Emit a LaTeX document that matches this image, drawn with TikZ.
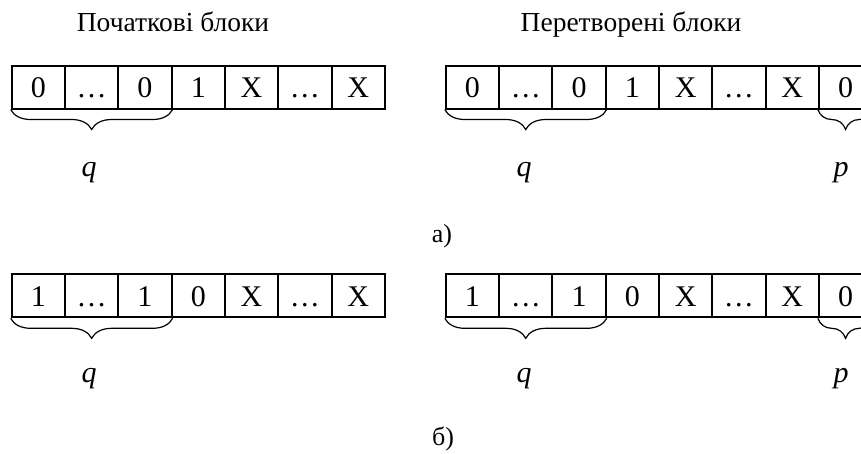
\documentclass[tikz,border=0pt]{standalone}
\usepackage{fontspec}
\setmainfont{Liberation Serif}
\usetikzlibrary{decorations.pathreplacing}

\tikzset{
  cell/.style={draw, line width=2pt, minimum width=53.3pt, minimum height=43pt,
    inner sep=0pt, font=\fontsize{30}{30}\selectfont, text height=21.5pt, text depth=0pt},
  bracebelow/.style={line width=1.2pt, decorate,
    decoration={brace, mirror, amplitude=20pt}},
  title/.style={font=\fontsize{27.5}{28}\selectfont, anchor=base},
  varlabel/.style={font=\fontsize{30}{30}\selectfont\itshape, anchor=base},
  caption/.style={font=\fontsize{26}{26}\selectfont, anchor=base}
}

\begin{document}
\begin{tikzpicture}[x=1pt, y=-1pt]
  \path[use as bounding box] (0,0) rectangle (861,453);
  \clip (0,0) rectangle (861,453);

  % column headings
  \node[title] (hl) at (173,31) {Початкові блоки};
  \node[title] (hr) at (631,31) {Перетворені блоки};

  % case a): original and transformed blocks
  \foreach \t [count=\i] in {0,…,0,1,X,…,X}
    \node[cell] (a\i) at ({11.7+53.3*(\i-0.5)},87) {\t};
  \foreach \t [count=\i] in {0,…,0,1,X,…,X,0}
    \node[cell] (b\i) at ({445.8+53.3*(\i-0.5)},87) {\t};

  \draw[bracebelow] (a1.south west) -- (a3.south east);
  \draw[bracebelow] (b1.south west) -- (b3.south east);
  \draw[bracebelow] (b8.south west) -- (b8.south east);

  \node[varlabel] (qa) at (89,176) {q};
  \node[varlabel] (qb) at (524,176) {q};
  \node[varlabel] (pb) at (841,176) {p};

  \node[caption] (capa) at (442,242) {а)};

  % case б): original and transformed blocks
  \foreach \t [count=\i] in {1,…,1,0,X,…,X}
    \node[cell] (c\i) at ({11.7+53.3*(\i-0.5)},295.8) {\t};
  \foreach \t [count=\i] in {1,…,1,0,X,…,X,0}
    \node[cell] (d\i) at ({445.8+53.3*(\i-0.5)},295.8) {\t};

  \draw[bracebelow] (c1.south west) -- (c3.south east);
  \draw[bracebelow] (d1.south west) -- (d3.south east);
  \draw[bracebelow] (d8.south west) -- (d8.south east);

  \node[varlabel] (qc) at (89,382) {q};
  \node[varlabel] (qd) at (524,382) {q};
  \node[varlabel] (pd) at (841,382) {p};

  \node[caption] (capb) at (443,445) {б)};
\end{tikzpicture}
\end{document}
